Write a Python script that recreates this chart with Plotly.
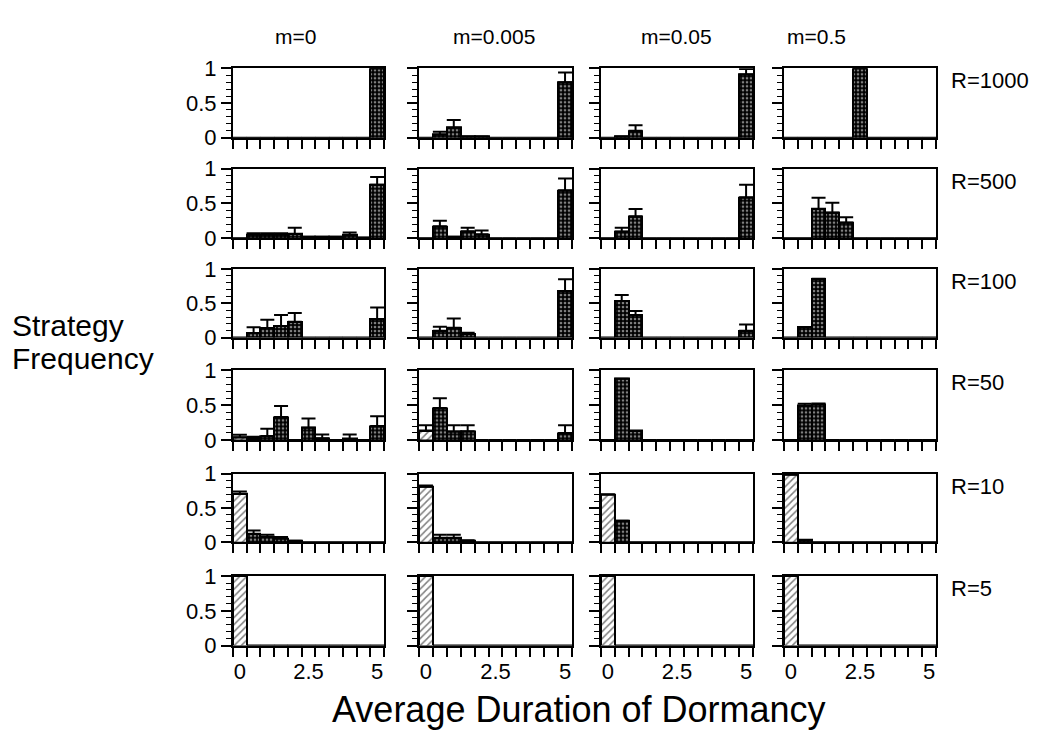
import plotly.graph_objects as go

# ---------------- data ----------------
bins = [0, 0.5, 1, 1.5, 2, 2.5, 3, 3.5, 4, 4.5, 5]
m_labels = ["m=0", "m=0.005", "m=0.05", "m=0.5"]
R_labels = ["R=1000", "R=500", "R=100", "R=50", "R=10", "R=5"]
x_tickvals = [0, 2.5, 5]
x_ticktext = ["0", "2.5", "5"]
y_tickvals = [0, 0.5, 1]
y_ticktext = ["0", "0.5", "1"]

# each row: one list per m column (m=0, m=0.005, m=0.05, m=0.5), 11 bins
freq_R1000 = [
    [0, 0, 0, 0, 0, 0, 0, 0, 0, 0, 1.0],
    [0, 0.045, 0.145, 0.02, 0.02, 0, 0, 0, 0, 0, 0.80],
    [0, 0.02, 0.10, 0, 0, 0, 0, 0, 0, 0, 0.91],
    [0, 0, 0, 0, 0, 1.0, 0, 0, 0, 0, 0],
]
err_R1000 = [
    [0, 0, 0, 0, 0, 0, 0, 0, 0, 0, 0],
    [0, 0.04, 0.11, 0, 0, 0, 0, 0, 0, 0, 0.14],
    [0, 0, 0.08, 0, 0, 0, 0, 0, 0, 0, 0.08],
    [0, 0, 0, 0, 0, 0, 0, 0, 0, 0, 0],
]
freq_R500 = [
    [0, 0.05, 0.05, 0.05, 0.06, 0.02, 0.02, 0.02, 0.045, 0.01, 0.77],
    [0, 0.17, 0.02, 0.10, 0.055, 0, 0, 0, 0, 0, 0.69],
    [0, 0.095, 0.315, 0, 0, 0, 0, 0, 0, 0, 0.59],
    [0, 0, 0.42, 0.37, 0.225, 0, 0, 0, 0, 0, 0],
]
err_R500 = [
    [0, 0.02, 0.02, 0.02, 0.09, 0, 0, 0, 0.035, 0, 0.11],
    [0, 0.08, 0, 0.05, 0.055, 0, 0, 0, 0, 0, 0.17],
    [0, 0.055, 0.105, 0, 0, 0, 0, 0, 0, 0, 0.18],
    [0, 0, 0.16, 0.14, 0.075, 0, 0, 0, 0, 0, 0],
]
freq_R100 = [
    [0, 0.065, 0.14, 0.17, 0.23, 0, 0, 0, 0, 0, 0.27],
    [0, 0.10, 0.145, 0.05, 0, 0, 0, 0, 0, 0, 0.68],
    [0, 0.535, 0.33, 0, 0, 0, 0, 0, 0, 0, 0.10],
    [0, 0.15, 0.855, 0, 0, 0, 0, 0, 0, 0, 0],
]
err_R100 = [
    [0, 0.085, 0.12, 0.16, 0.13, 0, 0, 0, 0, 0, 0.17],
    [0, 0.06, 0.135, 0.02, 0, 0, 0, 0, 0, 0, 0.17],
    [0, 0.085, 0.06, 0, 0, 0, 0, 0, 0, 0, 0.09],
    [0, 0, 0.005, 0, 0, 0, 0, 0, 0, 0, 0],
]
freq_R50 = [
    [0.04, 0.025, 0.055, 0.33, 0, 0.175, 0.025, 0, 0.015, 0, 0.20],
    [0.13, 0.46, 0.12, 0.125, 0, 0, 0, 0, 0, 0, 0.10],
    [0, 0.88, 0.13, 0, 0, 0, 0, 0, 0, 0, 0],
    [0, 0.49, 0.515, 0, 0, 0, 0, 0, 0, 0, 0],
]
err_R50 = [
    [0.035, 0.02, 0.105, 0.16, 0, 0.135, 0.055, 0, 0.065, 0, 0.14],
    [0.08, 0.14, 0.09, 0.085, 0, 0, 0, 0, 0, 0, 0.11],
    [0, 0, 0, 0, 0, 0, 0, 0, 0, 0, 0],
    [0, 0.03, 0.01, 0, 0, 0, 0, 0, 0, 0, 0],
]
freq_R10 = [
    [0.705, 0.12, 0.076, 0.057, 0.024, 0, 0, 0, 0, 0, 0],
    [0.81, 0.06, 0.06, 0.028, 0, 0, 0, 0, 0, 0, 0],
    [0.70, 0.315, 0, 0, 0, 0, 0, 0, 0, 0, 0],
    [0.99, 0.03, 0, 0, 0, 0, 0, 0, 0, 0, 0],
]
err_R10 = [
    [0.035, 0.05, 0.034, 0.02, 0, 0, 0, 0, 0, 0, 0],
    [0.02, 0.05, 0.05, 0, 0, 0, 0, 0, 0, 0, 0],
    [0, 0, 0, 0, 0, 0, 0, 0, 0, 0, 0],
    [0, 0, 0, 0, 0, 0, 0, 0, 0, 0, 0],
]
freq_R5 = [
    [1.0, 0, 0, 0, 0, 0, 0, 0, 0, 0, 0],
    [1.0, 0, 0, 0, 0, 0, 0, 0, 0, 0, 0],
    [1.0, 0, 0, 0, 0, 0, 0, 0, 0, 0, 0],
    [1.0, 0, 0, 0, 0, 0, 0, 0, 0, 0, 0],
]
err_R5 = [
    [0, 0, 0, 0, 0, 0, 0, 0, 0, 0, 0],
    [0, 0, 0, 0, 0, 0, 0, 0, 0, 0, 0],
    [0, 0, 0, 0, 0, 0, 0, 0, 0, 0, 0],
    [0, 0, 0, 0, 0, 0, 0, 0, 0, 0, 0],
]

freq_rows = [freq_R1000, freq_R500, freq_R100, freq_R50, freq_R10, freq_R5]
err_rows = [err_R1000, err_R500, err_R100, err_R50, err_R10, err_R5]

# ---------------- layout geometry (page pixels) ----------------
PAGE_W, PAGE_H = 1058, 738
OFF = 8                      # default body margin of the html page
W, H = PAGE_W - 2 * OFF, PAGE_H - 2 * OFF
col_px = [(233, 384), (419, 572), (601, 753), (784, 936)]
row_px = [(58, 130), (162, 234), (266, 337), (371, 443), (478, 549), (584, 656)]
title_x_px = [295, 494, 676, 816]
FONT = "Liberation Sans, Arial, Helvetica, sans-serif"


def fx(px):
    return (px - OFF) / W


def fy(py):
    return 1 - (py - OFF) / H


half = (bins[1] - bins[0]) / 2
edges = [b - half for b in bins] + [bins[-1] + half]

fig = go.Figure()
layout = {}
n = len(bins)
for i, (frows, erows) in enumerate(zip(freq_rows, err_rows)):
    for j in range(4):
        k = i * 4 + j + 1
        xn = "x" if k == 1 else f"x{k}"
        yn = "y" if k == 1 else f"y{k}"
        vals = frows[j]
        errs = [e if e > 0 else None for e in erows[j]]
        fig.add_trace(go.Bar(
            x=bins, y=vals, xaxis=xn, yaxis=yn, width=2 * half,
            showlegend=False,
            marker=dict(color="white", line=dict(color="black", width=2),
                        pattern=dict(shape=["/"] + ["."] * (n - 1),
                                     size=[5] + [4] * (n - 1),
                                     solidity=[0.3] + [0.35] * (n - 1),
                                     fgcolor=["black"] + ["white"] * (n - 1),
                                     bgcolor=["white"] + ["black"] * (n - 1))),
            error_y=dict(type="data", symmetric=False, array=errs,
                         arrayminus=[0] * n, color="black",
                         thickness=2, width=7, visible=True),
        ))
        x0, x1 = col_px[j]
        y0, y1 = row_px[i]
        layout["xaxis" if k == 1 else f"xaxis{k}"] = dict(
            domain=[fx(x0), fx(x1)], anchor=yn,
            range=[edges[0], edges[-1]], showgrid=False, zeroline=False,
            showline=True, mirror=True, linecolor="black", linewidth=2,
            tickmode="array", tickvals=x_tickvals, ticktext=x_ticktext,
            ticks="outside", ticklen=5, tickcolor="rgba(0,0,0,0)",
            showticklabels=(i == len(freq_rows) - 1),
            tickfont=dict(size=22, color="black", family=FONT),
            minor=dict(tickmode="array", tickvals=edges, ticks="outside",
                       ticklen=9, tickwidth=1.5, tickcolor="black", showgrid=False),
            fixedrange=True,
        )
        layout["yaxis" if k == 1 else f"yaxis{k}"] = dict(
            domain=[fy(y1), fy(y0)], anchor=xn,
            range=[0, 1], showgrid=False, zeroline=False,
            showline=True, mirror=True, linecolor="black", linewidth=2,
            tickmode="array", tickvals=y_tickvals, ticktext=y_ticktext,
            ticks="outside", ticklen=10, tickwidth=1.5, tickcolor="black",
            showticklabels=(j == 0),
            tickfont=dict(size=22, color="black", family=FONT),
            minor=dict(dtick=0.1, tick0=0, ticks="outside", ticklen=5,
                       tickwidth=1, tickcolor="black", showgrid=False),
            fixedrange=True,
        )

annotations = []
for j, lab in enumerate(m_labels):
    annotations.append(dict(text=lab, x=fx(title_x_px[j]), y=fy(25),
                            xref="paper", yref="paper", showarrow=False,
                            xanchor="center", yanchor="middle",
                            font=dict(size=21, family=FONT, color="black")))
for i, lab in enumerate(R_labels):
    annotations.append(dict(text=lab, x=fx(949), y=fy(row_px[i][0] + 13),
                            xref="paper", yref="paper", showarrow=False,
                            xanchor="left", yanchor="middle",
                            font=dict(size=22, family=FONT, color="black")))
for txt, yy in [("Strategy", 324), ("Frequency", 359)]:
    annotations.append(dict(text=txt, x=fx(10), y=fy(yy),
                            xref="paper", yref="paper", showarrow=False,
                            xanchor="left", yanchor="middle", align="left",
                            font=dict(size=30, family=FONT, color="black")))
annotations.append(dict(text="Average Duration of Dormancy", x=fx(579), y=fy(722),
                        xref="paper", yref="paper", showarrow=False,
                        xanchor="center", yanchor="middle",
                        font=dict(size=36, family=FONT, color="black")))

fig.update_layout(
    width=W, height=H, margin=dict(l=0, r=0, t=0, b=0),
    paper_bgcolor="white", plot_bgcolor="white",
    bargap=0, annotations=annotations,
    font=dict(family=FONT, color="black"),
    **layout,
)
fig.write_html("out.html")
